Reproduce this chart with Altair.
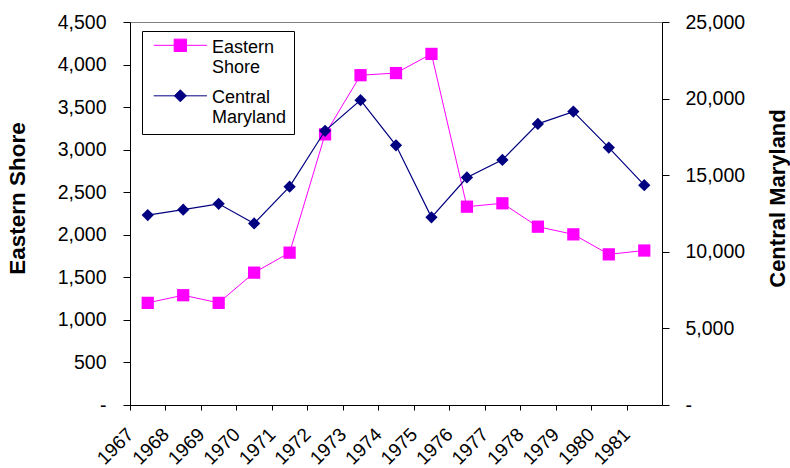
import altair as alt
import pandas as pd

# Annual figures, 1967-1981
years = list(range(1967, 1982))
eastern_shore = [1200, 1290, 1200, 1555, 1790, 3180, 3875, 3900, 4125,
                 2330, 2370, 2095, 2005, 1770, 1815]
central_maryland = [12400, 12750, 13130, 11850, 14250, 17900, 19900, 16950,
                    12250, 14850, 16000, 18350, 19150, 16800, 14350]

series = ["Eastern Shore", "Central Maryland"]
series_colors = ["#FF00FF", "#000080"]
left_ticks = list(range(0, 4501, 500))
right_ticks = list(range(0, 25001, 5000))

FONT = "Liberation Sans"
MAGENTA, NAVY = series_colors

df = pd.DataFrame({"year": years, "eastern": eastern_shore, "central": central_maryland})
legend_df = pd.DataFrame({"series": series})

# Category axis: points sit in the middle of each year slot, ticks and labels at slot edges
x_enc = alt.X(
    "year:Q",
    scale=alt.Scale(domain=[years[0] - 0.5, years[-1] + 0.5], nice=False, zero=False),
    axis=alt.Axis(
        values=[y - 0.5 for y in years],
        labelExpr="format(datum.value + 0.5, 'd')",
        labelAngle=315, labelAlign="right", labelBaseline="middle",
        labelFlush=False, labelOverlap=False, labelBound=False,
        tickSize=5, labelPadding=21, labelFontSize=19, title=None,
    ),
)

dash_zero = "datum.value == 0 ? '-' : format(datum.value, ',')"

y_left = alt.Y(
    "eastern:Q",
    scale=alt.Scale(domain=[0, 4500], nice=False),
    axis=alt.Axis(
        orient="left", values=left_ticks, labelExpr=dash_zero,
        tickSize=7, labelPadding=17, labelFontSize=19.5,
        title="Eastern Shore", titleFontWeight="bold", titleFontSize=22.5,
        titleAngle=270, titleAlign="center", titleBaseline="middle",
        titleX=-113, titleY=176,
    ),
)

y_right = alt.Y(
    "central:Q",
    scale=alt.Scale(domain=[0, 25000], nice=False),
    axis=alt.Axis(
        orient="right", values=right_ticks, labelExpr=dash_zero,
        tickSize=7, labelPadding=16, labelFontSize=19.5,
        title="Central Maryland", titleFontWeight="bold", titleFontSize=22,
        titleAngle=270, titleAlign="center", titleBaseline="middle",
        titleX=115, titleY=176,
    ),
)

base = alt.Chart(df)

east_line = base.mark_line(color=MAGENTA, strokeWidth=1).encode(x=x_enc, y=y_left)
east_pts = base.mark_point(shape="square", size=150, filled=True, color=MAGENTA,
                           opacity=1).encode(x=x_enc, y=y_left)

central_line = base.mark_line(color=NAVY, strokeWidth=1.2).encode(x=x_enc, y=y_right)
central_pts = base.mark_point(shape="diamond", size=150, filled=True, color=NAVY,
                              opacity=1).encode(x=x_enc, y=y_right)

# Legend symbols: a short line with the series marker on it
square_sym = "M-0.55,-0.25H5.57M1.8,-0.96H3.22V0.46H1.8Z"
diamond_sym = "M-0.55,-0.25H5.57M2.51,-0.94L3.2,-0.25L2.51,0.44L1.82,-0.25Z"

legend = alt.Legend(
    title=None, orient="none", legendX=12, legendY=9,
    strokeColor="black", fillColor="white", padding=7,
    labelFont=FONT, labelFontSize=18, labelColor="black",
    labelExpr="split(datum.label, ' ')", labelBaseline="middle",
    labelOffset=44, labelLimit=200,
    symbolSize=303, symbolStrokeWidth=1, symbolOpacity=1, rowPadding=10.5,
)

legend_layer = alt.Chart(legend_df).mark_point(filled=True, opacity=0, strokeWidth=1).encode(
    shape=alt.Shape("series:N", scale=alt.Scale(domain=series, range=[square_sym, diamond_sym]),
                    legend=legend),
    fill=alt.Fill("series:N", scale=alt.Scale(domain=series, range=series_colors), legend=legend),
    stroke=alt.Stroke("series:N", scale=alt.Scale(domain=series, range=series_colors),
                      legend=legend),
)

left = alt.layer(east_line, east_pts, legend_layer)
right = alt.layer(central_line, central_pts)

chart = (
    alt.layer(left, right)
    .resolve_scale(y="independent")
    .properties(
        width=532, height=383,
        padding={"left": 130, "top": 22, "right": 128, "bottom": 63},
        autosize=alt.AutoSizeParams(type="none"),
        background="white",
    )
    .configure_view(stroke="#808080", strokeWidth=1)
    .configure_axis(
        grid=False, domainColor="black", tickColor="black", labelColor="black",
        labelFont=FONT, titleFont=FONT, titleColor="black", domainWidth=1, tickWidth=1,
    )
)

chart.save("out.html", embed_options={"renderer": "svg", "actions": False})
